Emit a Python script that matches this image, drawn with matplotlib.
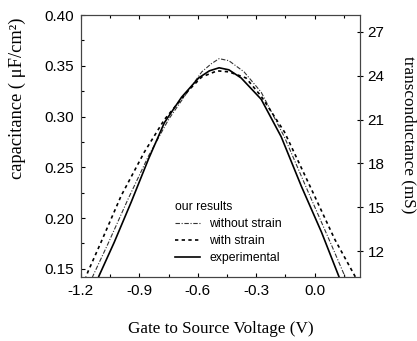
import matplotlib
matplotlib.use("Agg")
import matplotlib.pyplot as plt
from matplotlib.ticker import MultipleLocator

# values
x_exp = [-1.13, -1.107, -1.029, -0.941, -0.853, -0.771, -0.683, -0.595, -0.54,
         -0.49, -0.44, -0.377, -0.274, -0.171, -0.067, 0.036, 0.124, 0.14]
y_exp = [0.131, 0.143, 0.176, 0.216, 0.258, 0.294, 0.319, 0.338, 0.345,
         0.348, 0.346, 0.338, 0.317, 0.280, 0.231, 0.186, 0.143, 0.135]

x_nostrain = [-1.16, -1.138, -1.060, -0.957, -0.853, -0.750, -0.646, -0.579,
              -0.53, -0.49, -0.44, -0.362, -0.274, -0.155, -0.031, 0.088,
              0.155, 0.175]
y_nostrain = [0.133, 0.143, 0.175, 0.219, 0.261, 0.297, 0.326, 0.344,
              0.352, 0.357, 0.355, 0.344, 0.324, 0.280, 0.225, 0.173,
              0.143, 0.134]

x_strain = [-1.19, -1.164, -1.097, -0.993, -0.874, -0.771, -0.646, -0.579,
            -0.50, -0.44, -0.352, -0.274, -0.155, -0.015, 0.104, 0.207, 0.23]
y_strain = [0.133, 0.147, 0.176, 0.222, 0.265, 0.297, 0.326, 0.339,
            0.345, 0.344, 0.338, 0.320, 0.285, 0.228, 0.179, 0.143, 0.133]

x_ticks = [-1.2, -0.9, -0.6, -0.3, 0.0]
left_ticks = [0.15, 0.20, 0.25, 0.30, 0.35, 0.40]
right_ticks = [12, 15, 18, 21, 24, 27]

sans = "Liberation Sans"
serif = "Liberation Serif"

fig = plt.figure(figsize=(4.17, 3.41), dpi=100)
ax = fig.add_axes([0.194, 0.188, 0.669, 0.768])

ax.plot(x_nostrain, y_nostrain, color="#333333", lw=0.8,
        linestyle=(0, (4, 1.5, 1, 1.5)), label="without strain")
ax.plot(x_strain, y_strain, color="black", lw=1.2,
        linestyle=(0, (2, 2)), label="with strain")
ax.plot(x_exp, y_exp, color="black", lw=1.2, label="experimental")

ax.set_xlim(-1.2, 0.233)
ax.set_ylim(0.142, 0.40)
ax.set_xticks(x_ticks)
ax.set_xticklabels([f"{v:.1f}" for v in x_ticks], fontfamily=sans, fontsize=11)
ax.xaxis.set_minor_locator(MultipleLocator(0.15))
ax.set_yticks(left_ticks)
ax.set_yticklabels([f"{v:.2f}" for v in left_ticks], fontfamily=sans, fontsize=11)
ax.yaxis.set_minor_locator(MultipleLocator(0.025))
ax.tick_params(which="both", direction="in", top=True, right=False)
ax.tick_params(which="major", length=3, width=0.8, pad=5)
ax.tick_params(which="minor", length=2, width=0.8)

ax.set_xlabel("Gate to Source Voltage (V)", fontfamily=serif, fontsize=12.3,
              va="center")
ax.xaxis.set_label_coords(0.5, -0.198)
ax.set_ylabel("capacitance ( \u03bcF/cm\u00b2)", fontfamily=serif,
              fontsize=13.3, va="center")
ax.yaxis.set_label_coords(-0.228, 0.683)

ax2 = ax.twinx()
ax2.set_position([0.194, 0.188, 0.669, 0.768])
ax2.set_ylim(10.23, 28.16)
ax2.set_yticks(right_ticks)
ax2.set_yticklabels([str(v) for v in right_ticks], fontfamily=sans, fontsize=11)
ax2.tick_params(direction="inout", length=5, width=0.8, pad=3)
ax2.set_ylabel("transconductance (mS)", fontfamily=serif, fontsize=12.3,
               rotation=-90, va="center")
ax2.yaxis.set_label_coords(1.174, 0.542)

for spine in list(ax.spines.values()) + list(ax2.spines.values()):
    spine.set_linewidth(0.8)
    spine.set_color("#444444")

leg = ax.legend(loc="lower left", bbox_to_anchor=(0.337, 0.05), frameon=False,
                title="our results", prop={"family": sans, "size": 8.8},
                handlelength=2.05, handletextpad=0.75, labelspacing=0.4,
                borderaxespad=0, borderpad=0)
leg.get_title().set_fontfamily(sans)
leg.get_title().set_fontsize(8.8)
leg._legend_box.align = "left"

fig.savefig("out.png", dpi=100)
